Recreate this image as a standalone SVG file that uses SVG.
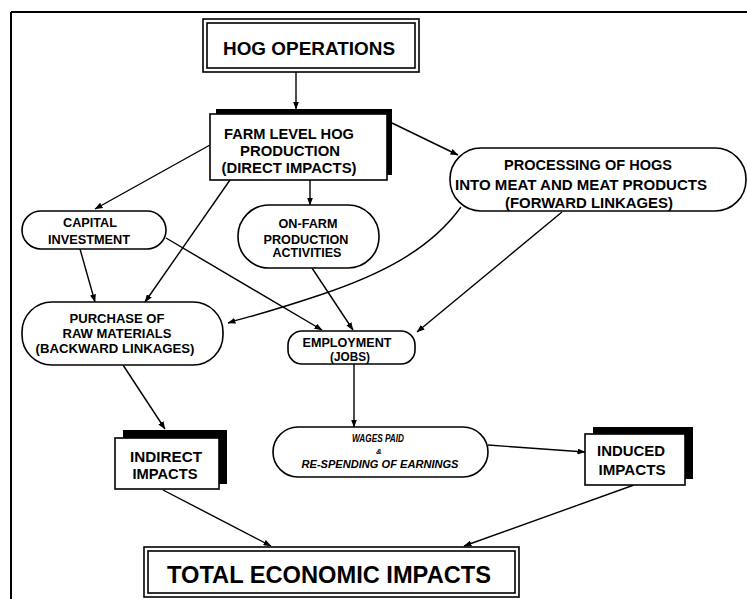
<svg xmlns="http://www.w3.org/2000/svg" width="747" height="599" viewBox="0 0 747 599">
<defs>
<marker id="ah" markerWidth="8" markerHeight="6" refX="7.5" refY="3" orient="auto" markerUnits="userSpaceOnUse">
<path d="M0,0 L8,3 L0,6 Z" fill="#000"/>
</marker>
<style>
.t{font-family:"Liberation Sans",Arial,sans-serif;font-weight:bold;text-anchor:middle;fill:#000}
.n{fill:#fff;stroke:#000;stroke-width:1.6}
.sh{fill:#000}
.c{fill:none;stroke:#000;stroke-width:1.4;marker-end:url(#ah)}
.it{font-style:italic}
</style>
</defs>
<rect width="747" height="599" fill="#fff"/>
<g id="frame" fill="none" stroke="#000" stroke-width="2">
<path d="M11,12 H747 M11,12 V599"/>
</g>
<g id="connectors">
<path class="c" d="M296,72 V109"/>
<path class="c" d="M210,145 L95,209"/>
<path class="c" d="M230,180 L145,302"/>
<path class="c" d="M310,180 V205"/>
<path class="c" d="M392,123 L458,155"/>
<path class="c" d="M80,249 L95,302"/>
<path class="c" d="M166,238 L322,330"/>
<path class="c" d="M461,207 C430,250 380,275 320,295 S250,316 228,323"/>
<path class="c" d="M312,268 L353,330"/>
<path class="c" d="M562,212 L417,332"/>
<path class="c" d="M354,364 V427"/>
<path class="c" d="M123,365 L165,429"/>
<path class="c" d="M488,445 L585,452"/>
<path class="c" d="M163,490 L271,546"/>
<path class="c" d="M634,485 L464,546"/>
</g>
<g id="hog">
<rect class="n" x="203" y="19" width="216" height="53"/>
<rect class="n" x="207" y="23" width="208" height="45" stroke-width="1"/>
<text class="t" x="309" y="55" font-size="18" textLength="172" lengthAdjust="spacingAndGlyphs">HOG OPERATIONS</text>
</g>
<g id="farm">
<rect class="sh" x="216" y="109" width="176" height="66"/>
<rect class="n" x="210" y="114" width="177" height="66"/>
<text class="t" x="289" y="139" font-size="14" textLength="130" lengthAdjust="spacingAndGlyphs">FARM LEVEL HOG</text>
<text class="t" x="290" y="156" font-size="14" textLength="100" lengthAdjust="spacingAndGlyphs">PRODUCTION</text>
<text class="t" x="289" y="173" font-size="14" textLength="135" lengthAdjust="spacingAndGlyphs">(DIRECT IMPACTS)</text>
</g>
<g id="processing">
<rect class="n" x="450" y="148" width="296" height="63" rx="31"/>
<text class="t" x="588" y="170" font-size="14" textLength="168" lengthAdjust="spacingAndGlyphs">PROCESSING OF HOGS</text>
<text class="t" x="581" y="190" font-size="14" textLength="252" lengthAdjust="spacingAndGlyphs">INTO MEAT AND MEAT PRODUCTS</text>
<text class="t" x="589" y="208" font-size="14" textLength="168" lengthAdjust="spacingAndGlyphs">(FORWARD LINKAGES)</text>
</g>
<g id="capital">
<rect class="n" x="22" y="211" width="144" height="38" rx="19"/>
<text class="t" x="90" y="227" font-size="12" textLength="54" lengthAdjust="spacingAndGlyphs">CAPITAL</text>
<text class="t" x="89" y="244" font-size="12" textLength="82" lengthAdjust="spacingAndGlyphs">INVESTMENT</text>
</g>
<g id="onfarm">
<rect class="n" x="238" y="205" width="141" height="63" rx="31"/>
<text class="t" x="308" y="228" font-size="12" textLength="59" lengthAdjust="spacingAndGlyphs">ON-FARM</text>
<text class="t" x="306" y="244" font-size="12" textLength="85" lengthAdjust="spacingAndGlyphs">PRODUCTION</text>
<text class="t" x="307" y="257" font-size="12" textLength="69" lengthAdjust="spacingAndGlyphs">ACTIVITIES</text>
</g>
<g id="purchase">
<rect class="n" x="22" y="302" width="201" height="63" rx="30"/>
<text class="t" x="117" y="323" font-size="13" textLength="95" lengthAdjust="spacingAndGlyphs">PURCHASE OF</text>
<text class="t" x="117" y="338" font-size="13" textLength="109" lengthAdjust="spacingAndGlyphs">RAW MATERIALS</text>
<text class="t" x="115" y="353" font-size="13" textLength="159" lengthAdjust="spacingAndGlyphs">(BACKWARD LINKAGES)</text>
</g>
<g id="employment">
<rect class="n" x="288" y="331" width="127" height="33" rx="14"/>
<text class="t" x="347" y="347" font-size="12" textLength="89" lengthAdjust="spacingAndGlyphs">EMPLOYMENT</text>
<text class="t" x="350" y="361" font-size="12" textLength="40" lengthAdjust="spacingAndGlyphs">(JOBS)</text>
</g>
<g id="wages">
<rect class="n" x="273" y="427" width="215" height="50" rx="25"/>
<text class="t it" x="378" y="442" font-size="10" textLength="52" lengthAdjust="spacingAndGlyphs">WAGES PAID</text>
<text class="t it" x="379" y="454" font-size="8">&amp;</text>
<text class="t it" x="380" y="468" font-size="10" textLength="157" lengthAdjust="spacingAndGlyphs">RE-SPENDING OF EARNINGS</text>
</g>
<g id="indirect">
<rect class="sh" x="123" y="430" width="104" height="54"/>
<rect class="n" x="115" y="438" width="104" height="51"/>
<text class="t" x="166" y="462" font-size="14" textLength="72" lengthAdjust="spacingAndGlyphs">INDIRECT</text>
<text class="t" x="165" y="479" font-size="14" textLength="65" lengthAdjust="spacingAndGlyphs">IMPACTS</text>
</g>
<g id="induced">
<rect class="sh" x="593" y="427" width="100" height="52"/>
<rect class="n" x="585" y="434" width="100" height="51"/>
<text class="t" x="631" y="456" font-size="14" textLength="68" lengthAdjust="spacingAndGlyphs">INDUCED</text>
<text class="t" x="632" y="475" font-size="14" textLength="67" lengthAdjust="spacingAndGlyphs">IMPACTS</text>
</g>
<g id="total">
<rect class="n" x="144" y="547" width="375" height="50"/>
<rect class="n" x="148" y="551" width="367" height="42" stroke-width="1"/>
<text class="t" x="329" y="583" font-size="23" textLength="324" lengthAdjust="spacingAndGlyphs">TOTAL ECONOMIC IMPACTS</text>
</g>
</svg>
